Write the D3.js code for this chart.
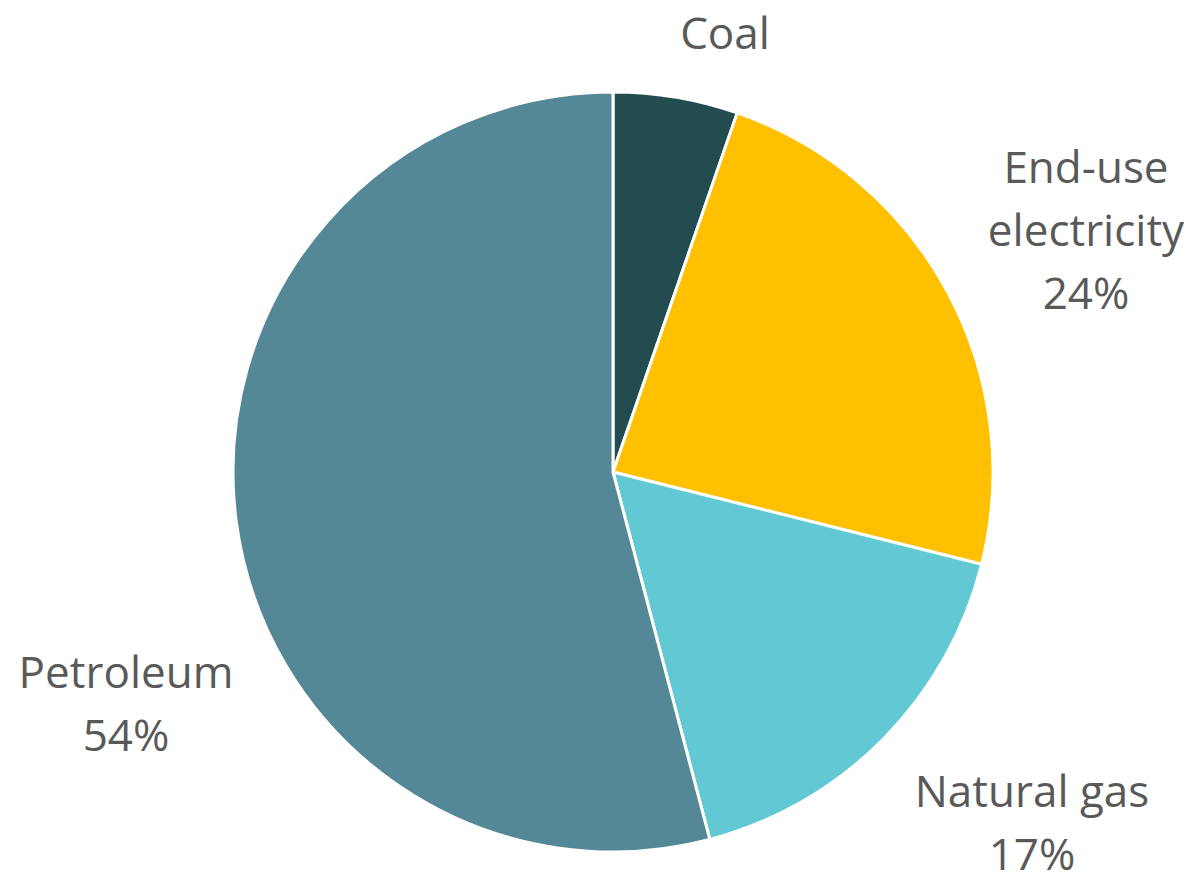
<!DOCTYPE html>
<html lang="en">
  <head>
    <meta charset="utf-8">
    <title>Energy pie</title>
    <script src="https://cdn.jsdelivr.net/npm/d3@7"></script>
    <style>
      body { margin: 0; background: #fff; }
    </style>
  </head>
  <body>
    <script>
      // Data
      var categories = ["Coal", "End-use electricity", "Natural gas", "Petroleum"];
      var values = [5.3, 23.6, 17.0, 54.1];
      var colors = ["#234c50", "#ffc000", "#62c8d3", "#548896"];
      // label lines per slice (coal shows no percent)
      var labelLines = [["Coal"], ["End-use", "electricity", "24%"], ["Natural gas", "17%"], ["Petroleum", "54%"]];
      var labelPos = [[725, 49], [1086, 183], [1032, 807], [126, 688]];

      var width = 1199, height = 874;
      var cx = 613, cy = 472, radius = 380;

      var svg = d3.select("body").append("svg")
                  .attr("width", width)
                  .attr("height", height);

      var pie = d3.pie().sort(null).value(function(d) { return d; });
      var arc = d3.arc().innerRadius(0).outerRadius(radius);

      var g = svg.append("g")
                 .attr("transform", "translate(" + cx + "," + cy + ")");

      g.selectAll("path")
        .data(pie(values))
        .enter()
        .append("path")
        .attr("d", arc)
        .attr("fill", function(d, i) { return colors[i]; })
        .attr("stroke", "#fff")
        .attr("stroke-width", 3)
        .attr("stroke-linejoin", "round");

      // Labels
      var lineHeight = 63;
      var labels = svg.selectAll("text.lbl")
                      .data(categories)
                      .enter()
                      .append("text")
                      .attr("class", "lbl")
                      .attr("x", function(d, i) { return labelPos[i][0]; })
                      .attr("y", function(d, i) { return labelPos[i][1]; })
                      .attr("text-anchor", "middle")
                      .attr("font-family", "'Open Sans', sans-serif")
                      .attr("font-size", 44)
                      .attr("fill", "#595959");

      labels.each(function(d, i) {
        var t = d3.select(this);
        labelLines[i].forEach(function(line, j) {
          t.append("tspan")
            .attr("x", labelPos[i][0])
            .attr("y", labelPos[i][1] + j * lineHeight)
            .text(line);
        });
      });
    </script>
  </body>
</html>
